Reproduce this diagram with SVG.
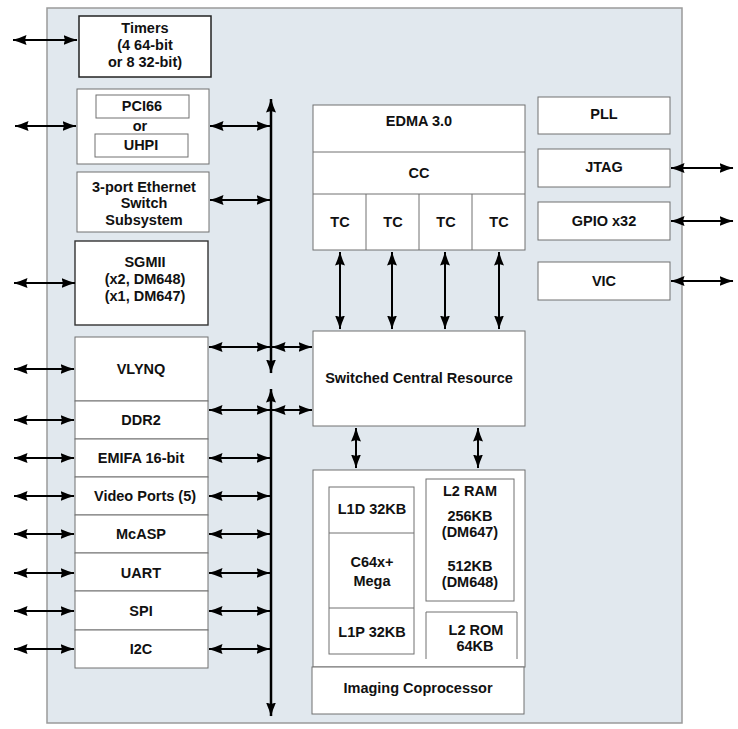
<svg xmlns="http://www.w3.org/2000/svg" width="738" height="729" viewBox="0 0 738 729">
<defs>
<style>
.bg{fill:#e1e8ee;stroke:#9a9a9a;stroke-width:1.5}
.box{fill:#fff;stroke:#707070;stroke-width:1}
.dark{fill:#fff;stroke:#222;stroke-width:1.5}
.t{font-family:"Liberation Sans",Arial,sans-serif;font-weight:bold;font-size:14.5px;fill:#111;text-anchor:middle}
.a{stroke:#000;stroke-width:2;fill:none;marker-start:url(#ah);marker-end:url(#ah)}
.bus{stroke:#000;stroke-width:2.5;fill:none;marker-start:url(#ah);marker-end:url(#ah)}
</style>
<marker id="ah" viewBox="0 0 14 10" refX="13.5" refY="5" markerWidth="14" markerHeight="10" markerUnits="userSpaceOnUse" orient="auto-start-reverse">
<path d="M0,0 Q7,3.2 14,5 Q7,6.8 0,10 L1.5,5 z" fill="#000"/>
</marker>
</defs>
<rect class="bg" x="47" y="8" width="635" height="715"/>

<g id="timers"><rect class="dark" x="79" y="16" width="132" height="61"/>
<text class="t" x="145" y="33">Timers</text><text class="t" x="145" y="50">(4 64-bit</text><text class="t" x="145" y="67">or 8 32-bit)</text></g>

<g id="pci"><rect class="box" x="77" y="89" width="132" height="75"/>
<rect class="box" x="96" y="95" width="93" height="23"/><text class="t" x="142" y="111">PCI66</text>
<text class="t" x="140" y="131">or</text>
<rect class="box" x="95" y="134" width="93" height="23"/><text class="t" x="141" y="150">UHPI</text></g>

<g id="ethernet"><rect class="box" x="77" y="172" width="132" height="60"/>
<text class="t" x="144" y="192">3-port Ethernet</text><text class="t" x="144" y="208">Switch</text><text class="t" x="144" y="225">Subsystem</text></g>

<g id="sgmii"><rect class="box" x="75" y="241" width="133" height="84" style="stroke:#333;stroke-width:1.4"/>
<text class="t" x="145" y="267">SGMII</text><text class="t" x="145" y="284">(x2, DM648)</text><text class="t" x="145" y="301">(x1, DM647)</text></g>

<g id="vlynq"><rect class="box" x="75" y="337" width="133" height="64"/><text class="t" x="141" y="374">VLYNQ</text></g>
<g id="ddr2"><rect class="box" x="75" y="401" width="133" height="38"/><text class="t" x="141" y="425">DDR2</text></g>
<g id="emifa"><rect class="box" x="75" y="439" width="133" height="38"/><text class="t" x="141" y="463">EMIFA 16-bit</text></g>
<g id="video"><rect class="box" x="75" y="477" width="133" height="38"/><text class="t" x="145" y="501">Video Ports (5)</text></g>
<g id="mcasp"><rect class="box" x="75" y="515" width="133" height="38"/><text class="t" x="141" y="539">McASP</text></g>
<g id="uart"><rect class="box" x="75" y="553" width="133" height="38"/><text class="t" x="141" y="578">UART</text></g>
<g id="spi"><rect class="box" x="75" y="591" width="133" height="39"/><text class="t" x="141" y="616">SPI</text></g>
<g id="i2c"><rect class="box" x="75" y="630" width="133" height="38"/><text class="t" x="141" y="654">I2C</text></g>

<g id="edma"><rect class="box" x="313" y="105" width="212" height="145"/>
<line x1="313" y1="152" x2="525" y2="152" stroke="#707070"/>
<line x1="313" y1="194" x2="525" y2="194" stroke="#707070"/>
<line x1="366" y1="194" x2="366" y2="250" stroke="#707070"/>
<line x1="419" y1="194" x2="419" y2="250" stroke="#707070"/>
<line x1="472" y1="194" x2="472" y2="250" stroke="#707070"/>
<text class="t" x="419" y="126">EDMA 3.0</text>
<text class="t" x="419" y="178">CC</text>
<text class="t" x="340" y="227">TC</text><text class="t" x="393" y="227">TC</text><text class="t" x="446" y="227">TC</text><text class="t" x="499" y="227">TC</text></g>

<g id="scr"><rect class="box" x="313" y="331" width="212" height="95"/><text class="t" x="419" y="383">Switched Central Resource</text></g>

<g id="megamodule"><rect class="box" x="313" y="470" width="212" height="197"/>
<rect class="box" x="329" y="487" width="85" height="167"/>
<line x1="329" y1="533" x2="414" y2="533" stroke="#707070"/>
<line x1="329" y1="608" x2="414" y2="608" stroke="#707070"/>
<text class="t" x="372" y="514">L1D 32KB</text>
<text class="t" x="372" y="567">C64x+</text><text class="t" x="372" y="586">Mega</text>
<text class="t" x="372" y="637">L1P 32KB</text>
<rect class="box" x="426" y="479" width="88" height="122"/>
<text class="t" x="470" y="496">L2 RAM</text><text class="t" x="470" y="521">256KB</text><text class="t" x="470" y="537">(DM647)</text>
<text class="t" x="470" y="571">512KB</text><text class="t" x="470" y="587">(DM648)</text>
<path d="M426,659 V612 H517 V659" fill="none" stroke="#707070"/>
<text class="t" x="476" y="635">L2 ROM</text><text class="t" x="475" y="651">64KB</text></g>

<g id="imaging"><rect class="box" x="312" y="667" width="212" height="47"/><text class="t" x="418" y="693">Imaging Coprocessor</text></g>

<g id="pll"><rect class="box" x="538" y="97" width="132" height="37"/><text class="t" x="604" y="119">PLL</text></g>
<g id="jtag"><rect class="box" x="538" y="149" width="132" height="38"/><text class="t" x="604" y="172">JTAG</text></g>
<g id="gpio"><rect class="box" x="538" y="202" width="132" height="38"/><text class="t" x="604" y="226">GPIO x32</text></g>
<g id="vic"><rect class="box" x="538" y="262" width="132" height="38"/><text class="t" x="604" y="286">VIC</text></g>

<g id="connectors">
<line class="bus" x1="271" y1="99" x2="271" y2="373"/>
<line class="bus" x1="271" y1="389" x2="271" y2="716"/>
<line class="a" x1="13" y1="40" x2="77" y2="40"/>
<line class="a" x1="15" y1="126" x2="76" y2="126"/>
<line class="a" x1="14" y1="283" x2="75" y2="283"/>
<line class="a" x1="14" y1="369" x2="74" y2="369"/>
<line class="a" x1="14" y1="420" x2="74" y2="420"/>
<line class="a" x1="14" y1="458" x2="74" y2="458"/>
<line class="a" x1="14" y1="496" x2="74" y2="496"/>
<line class="a" x1="14" y1="534" x2="74" y2="534"/>
<line class="a" x1="14" y1="573" x2="74" y2="573"/>
<line class="a" x1="14" y1="611" x2="74" y2="611"/>
<line class="a" x1="14" y1="649" x2="74" y2="649"/>
<line class="a" x1="210" y1="126" x2="270" y2="126"/>
<line class="a" x1="210" y1="200" x2="270" y2="200"/>
<line class="a" x1="209" y1="347" x2="270" y2="347"/>
<line class="a" x1="209" y1="410" x2="270" y2="410"/>
<line class="a" x1="209" y1="458" x2="270" y2="458"/>
<line class="a" x1="209" y1="496" x2="270" y2="496"/>
<line class="a" x1="209" y1="534" x2="270" y2="534"/>
<line class="a" x1="209" y1="573" x2="270" y2="573"/>
<line class="a" x1="209" y1="611" x2="270" y2="611"/>
<line class="a" x1="209" y1="649" x2="270" y2="649"/>
<line class="a" x1="272" y1="347" x2="312" y2="347"/>
<line class="a" x1="272" y1="410" x2="312" y2="410"/>
<line class="a" x1="340" y1="252" x2="340" y2="329"/>
<line class="a" x1="392" y1="252" x2="392" y2="329"/>
<line class="a" x1="445" y1="252" x2="445" y2="329"/>
<line class="a" x1="499" y1="252" x2="499" y2="329"/>
<line class="a" x1="356" y1="428" x2="356" y2="468"/>
<line class="a" x1="478" y1="428" x2="478" y2="468"/>
<line class="a" x1="671" y1="168" x2="733" y2="168"/>
<line class="a" x1="671" y1="221" x2="733" y2="221"/>
<line class="a" x1="671" y1="281" x2="733" y2="281"/>
</g>
</svg>
